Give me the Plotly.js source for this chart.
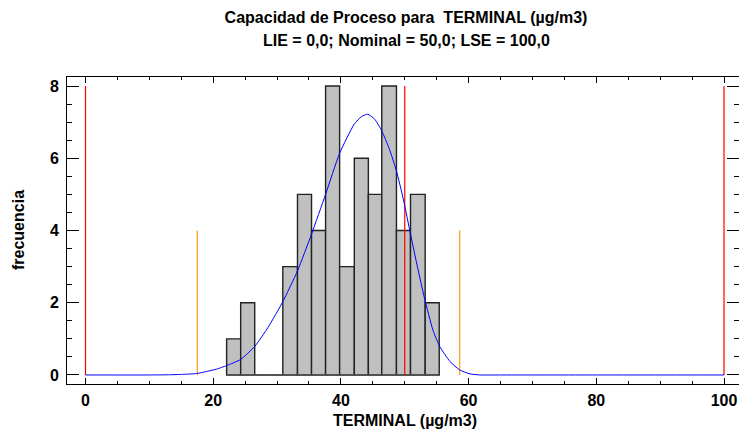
<!DOCTYPE html>
<html>
<head>
<meta charset="utf-8">
<script src="https://cdn.plot.ly/plotly-3.0.1.min.js"></script>
<style>html,body{margin:0;padding:0;background:#fff;}#chart{width:739px;height:433px;}</style>
</head>
<body>
<div id="chart"></div>
<script>
// Histogram bins (edges) and counts
const binEdges = [22.1, 24.3, 26.5, 28.7, 30.9, 33.2, 35.4, 37.6, 39.8, 42.1, 44.3, 46.4, 48.7, 50.9, 53.2, 55.4];
const counts   = [1, 2, 0, 0, 3, 5, 4, 8, 3, 6, 5, 8, 4, 5, 2];

// Fitted distribution curve
const curveX = [0, 10, 13, 15, 17.4, 20.5, 22.1, 24.3, 26.5, 28.6, 30.9, 33.2, 35.4, 37.6, 39.8, 42.1, 43.2, 44.2, 45.3, 46.4, 47.6, 48.7, 49.8, 50.9, 52.0, 53.1, 54.4, 55.5, 57.1, 58.6, 60.2, 61.8, 65, 80, 100];
const curveY = [0, 0, 0.005, 0.015, 0.04, 0.16, 0.26, 0.43, 0.79, 1.32, 2.03, 2.88, 3.9, 5.0, 6.14, 6.95, 7.15, 7.22, 7.08, 6.76, 6.25, 5.65, 4.85, 3.9, 2.98, 2.12, 1.25, 0.78, 0.37, 0.14, 0.03, 0.0, 0, 0, 0];

// Specification limits (LIE, Nominal, LSE) and natural limits
const specLimits = [0, 50, 100];
const specHeight = 8;
const naturalLimits = [17.5, 58.6];
const naturalHeight = 4;

const xTickLabels = ['0', '20', '40', '60', '80', '100'];
const yTickLabels = ['0', '2', '4', '6', '8'];

const centers = counts.map((c, i) => (binEdges[i] + binEdges[i + 1]) / 2);
const widths = counts.map((c, i) => binEdges[i + 1] - binEdges[i]);

const traces = [];
traces.push({
  x: [binEdges[0], binEdges[binEdges.length - 1]], y: [0, 0],
  mode: 'lines', line: {color: '#555555', width: 1.5}, hoverinfo: 'skip', showlegend: false
});
traces.push({
  type: 'bar', x: centers, y: counts, width: widths,
  marker: {color: '#c0c0c0', line: {color: '#222222', width: 1.4}},
  hoverinfo: 'skip', showlegend: false
});
specLimits.forEach(v => traces.push({
  x: [v, v], y: [0, specHeight], mode: 'lines',
  line: {color: '#ff0000', width: 1.2}, hoverinfo: 'skip', showlegend: false
}));
naturalLimits.forEach(v => traces.push({
  x: [v, v], y: [0, naturalHeight], mode: 'lines',
  line: {color: '#ff9a1a', width: 1.2}, hoverinfo: 'skip', showlegend: false
}));
traces.push({
  x: curveX, y: curveY, mode: 'lines', line: {color: '#0000ff', width: 1, shape: 'spline', smoothing: 0.5},
  hoverinfo: 'skip', showlegend: false
});

const fontFam = 'Arial, "Liberation Sans", sans-serif';
const boldFont = (s) => ({family: fontFam, size: s, color: '#000', weight: 'bold'});
const L = 67, T = 77, B = 384, W = 672, H = 307;
const layout = {
  width: 739, height: 433,
  margin: {l: L, r: 0, t: T, b: 433 - B},
  paper_bgcolor: '#ffffff', plot_bgcolor: '#ffffff',
  font: {family: fontFam, size: 13, color: '#000'},
  title: {
    text: 'Capacidad de Proceso para  TERMINAL (µg/m3)',
    font: boldFont(16),
    xref: 'container', x: 406 / 739, xanchor: 'center',
    yref: 'container', y: 1 - 17 / 433, yanchor: 'middle'
  },
  bargap: 0,
  xaxis: {
    range: [-2.9, 102.35], showgrid: false, zeroline: false,
    showline: true, linecolor: '#000', linewidth: 1, mirror: 'allticks',
    ticks: 'inside', ticklen: 6, tickcolor: '#000', tickwidth: 1,
    tickvals: xTickLabels.map(Number), ticktext: xTickLabels,
    tickfont: boldFont(16), ticklabelstandoff: 2,
    minor: {dtick: 5, ticks: 'inside', ticklen: 3, tickcolor: '#000', showgrid: false},
    fixedrange: true
  },
  yaxis: {
    range: [-0.25, 8.25], showgrid: false, zeroline: false,
    showline: true, linecolor: '#000', linewidth: 1, mirror: 'allticks',
    ticks: 'inside', ticklen: 12, tickcolor: '#000', tickwidth: 1,
    tickvals: yTickLabels.map(Number), ticktext: yTickLabels,
    tickfont: boldFont(16), ticklabelstandoff: 4,
    minor: {dtick: 0.5, ticks: 'inside', ticklen: 5, tickcolor: '#000', showgrid: false},
    fixedrange: true
  },
  annotations: [
    {text: 'LIE = 0,0; Nominal = 50,0; LSE = 100,0', xref: 'paper', yref: 'paper',
     x: (406 - L) / W, y: (B - 41) / H, xanchor: 'center', yanchor: 'middle', showarrow: false,
     font: boldFont(16)},
    {text: 'TERMINAL (µg/m3)', xref: 'paper', yref: 'paper',
     x: (405 - L) / W, y: (B - 420) / H, xanchor: 'center', yanchor: 'middle', showarrow: false,
     font: boldFont(16)},
    {text: 'frecuencia', xref: 'paper', yref: 'paper', textangle: -90,
     x: (18 - L) / W, y: (B - 230) / H, xanchor: 'center', yanchor: 'middle', showarrow: false,
     font: boldFont(16)}
  ]
};

Plotly.newPlot('chart', traces, layout, {displayModeBar: false, staticPlot: true});
</script>
</body>
</html>
